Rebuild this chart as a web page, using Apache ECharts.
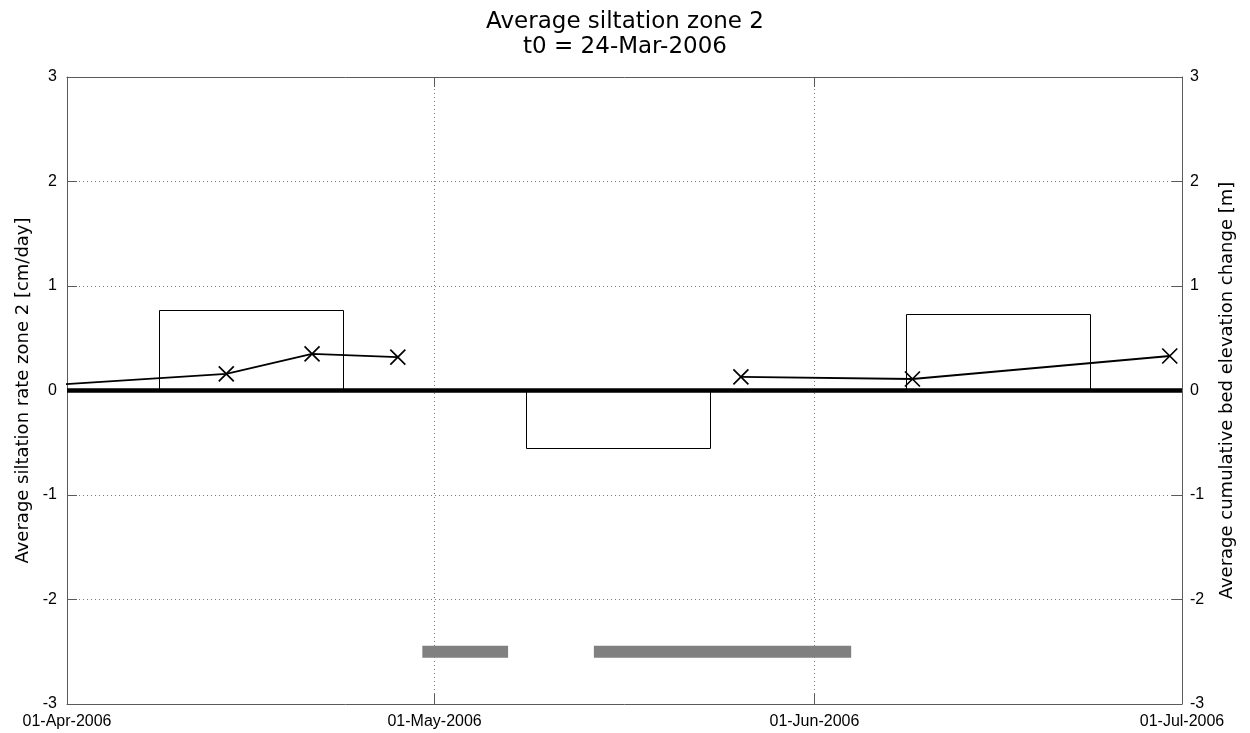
<!DOCTYPE html>
<html>
<head>
<meta charset="utf-8">
<script src="https://cdn.jsdelivr.net/npm/echarts@6/dist/echarts.min.js"></script>
<style>
  html, body { margin: 0; padding: 0; background: #fff; }
  #chart { width: 1250px; height: 733px; }
</style>
</head>
<body>
<div id="chart"></div>
<script>
// Mean siltation rate (cm/day) over each averaging window, drawn as open boxes
const rateStart = ['2006-04-08 12', '2006-05-08 12', '2006-06-08 12'];
const rateEnd   = ['2006-04-23 12', '2006-05-23 12', '2006-06-23 12'];
const rateValue = [0.77, -0.555, 0.73];

// Cumulative bed elevation change (m) since t0; a null entry breaks the line
const surveyDates = ['2006-03-24', '2006-04-14', '2006-04-21', '2006-04-28', '2006-05-12', '2006-05-26', '2006-06-09', '2006-06-30'];
const bedChange   = [0, 0.16, 0.35, 0.32, null, 0.13, 0.11, 0.33];

// Dredging periods, shown as grey bars near the bottom of the axes
const dredgeStart = ['2006-04-30', '2006-05-14'];
const dredgeEnd   = ['2006-05-07', '2006-06-04'];
const dredgeLevel = -2.5;

// Axis ticks
const xTickDates = ['2006-04-01', '2006-05-01', '2006-06-01', '2006-07-01'];
const yMin = -3, yMax = 3, yStep = 1;

const MONTHS = ['Jan','Feb','Mar','Apr','May','Jun','Jul','Aug','Sep','Oct','Nov','Dec'];
function ts(s) {
  const [d, h] = s.split(' ');
  const [y, m, dd] = d.split('-').map(Number);
  return new Date(y, m - 1, dd, h ? Number(h) : 0).getTime();
}
function fmtDate(v) {
  const d = new Date(v);
  return String(d.getDate()).padStart(2, '0') + '-' + MONTHS[d.getMonth()] + '-' + d.getFullYear();
}

const xTicks = xTickDates.map(ts);
const xMin = xTicks[0], xMax = xTicks[xTicks.length - 1];

const boxData = rateValue.map((v, i) => [ts(rateStart[i]), ts(rateEnd[i]), v]);
const bedData = surveyDates.map((d, i) => [ts(d), bedChange[i] === null ? '-' : bedChange[i]]);
const dredgeData = dredgeStart.map((d, i) => [ts(d), ts(dredgeEnd[i]), dredgeLevel]);

const FONT = 'DejaVu Sans';
const TICK_FONT = 'Liberation Sans';
const frameColor = '#5a5a5a';
const gridDots = { color: '#7a7a7a', width: 1, type: [1, 3] };

const chart = echarts.init(document.getElementById('chart'), null, { renderer: 'canvas' });

chart.setOption({
  animation: false,
  backgroundColor: '#fff',
  textStyle: { fontFamily: FONT },
  title: {
    text: 'Average siltation zone 2\nt0 = 24-Mar-2006',
    left: 'center',
    top: 5,
    textStyle: { fontFamily: FONT, fontSize: 23, fontWeight: 'normal', color: '#000', lineHeight: 25 }
  },
  grid: { left: 67, right: 68, top: 77, bottom: 29, containLabel: false },
  xAxis: [
    {
      type: 'value', position: 'bottom', min: xMin, max: xMax,
      axisLine: { show: true, onZero: false, lineStyle: { color: frameColor, width: 1 } },
      axisTick: { show: true, inside: true, length: 10, customValues: xTicks, lineStyle: { color: frameColor } },
      axisLabel: {
        show: true, customValues: xTicks, formatter: fmtDate, margin: 10,
        fontFamily: TICK_FONT, fontSize: 16, color: '#000',
        showMinLabel: true, showMaxLabel: true, hideOverlap: false
      },
      splitLine: { show: true, lineStyle: gridDots }
    },
    {
      type: 'value', position: 'top', min: xMin, max: xMax,
      axisLine: { show: true, onZero: false, lineStyle: { color: frameColor, width: 1 } },
      axisTick: { show: true, inside: true, length: 10, customValues: xTicks, lineStyle: { color: frameColor } },
      axisLabel: { show: false },
      splitLine: { show: false }
    }
  ],
  yAxis: [
    {
      type: 'value', position: 'left', min: yMin, max: yMax, interval: yStep,
      name: 'Average siltation rate zone 2 [cm/day]',
      nameLocation: 'middle', nameGap: 35, nameRotate: 90,
      nameTextStyle: { fontFamily: FONT, fontSize: 18, color: '#000' },
      axisLine: { show: true, onZero: false, lineStyle: { color: frameColor, width: 1 } },
      axisTick: { show: true, inside: true, length: 10, lineStyle: { color: frameColor } },
      axisLabel: { margin: 10, fontFamily: TICK_FONT, fontSize: 16, color: '#000' },
      splitLine: { show: true, lineStyle: gridDots }
    },
    {
      type: 'value', position: 'right', min: yMin, max: yMax, interval: yStep,
      name: 'Average cumulative bed elevation change [m]',
      nameLocation: 'middle', nameGap: 36, nameRotate: 90,
      nameTextStyle: { fontFamily: FONT, fontSize: 18, color: '#000' },
      axisLine: { show: true, onZero: false, lineStyle: { color: frameColor, width: 1 } },
      axisTick: { show: true, inside: true, length: 10, lineStyle: { color: frameColor } },
      axisLabel: { margin: 8, fontFamily: TICK_FONT, fontSize: 16, color: '#000' },
      splitLine: { show: false }
    }
  ],
  series: [
    {
      // open boxes for the siltation rate
      type: 'custom',
      xAxisIndex: 0, yAxisIndex: 0,
      clip: true,
      silent: true,
      encode: { x: [0, 1], y: 2 },
      data: boxData,
      renderItem: function (params, api) {
        const base = api.coord([api.value(0), 0]);
        const top = api.coord([api.value(1), api.value(2)]);
        const x0 = Math.round(base[0]) + 0.5, x1 = Math.round(top[0]) + 0.5;
        const y0 = Math.round(base[1]) + 0.5, y1 = Math.round(top[1]) + 0.5;
        return {
          type: 'rect',
          shape: { x: x0, y: Math.min(y0, y1), width: x1 - x0, height: Math.abs(y1 - y0) },
          style: { fill: 'none', stroke: '#000', lineWidth: 1 }
        };
      },
      z: 2
    },
    {
      // dredging periods
      type: 'custom',
      xAxisIndex: 0, yAxisIndex: 0,
      clip: true,
      silent: true,
      encode: { x: [0, 1], y: 2 },
      data: dredgeData,
      renderItem: function (params, api) {
        const a = api.coord([api.value(0), api.value(2)]);
        const b = api.coord([api.value(1), api.value(2)]);
        return {
          type: 'rect',
          shape: { x: a[0], y: a[1] - 6, width: b[0] - a[0], height: 12 },
          style: { fill: '#808080' }
        };
      },
      z: 2
    },
    {
      // cumulative bed elevation change
      type: 'line',
      xAxisIndex: 0, yAxisIndex: 1,
      data: bedData,
      connectNulls: false,
      clip: true,
      silent: true,
      symbol: 'path://M0,0L10,10M10,0L0,10',
      symbolSize: 15,
      showSymbol: true,
      itemStyle: { color: 'transparent', borderColor: '#000', borderWidth: 1.7 },
      lineStyle: { color: '#000', width: 1.8 },
      markLine: {
        silent: true,
        symbol: 'none',
        label: { show: false },
        lineStyle: { color: '#000', width: 4.5, type: 'solid' },
        data: [{ yAxis: 0 }]
      },
      z: 3
    }
  ]
});
</script>
</body>
</html>
